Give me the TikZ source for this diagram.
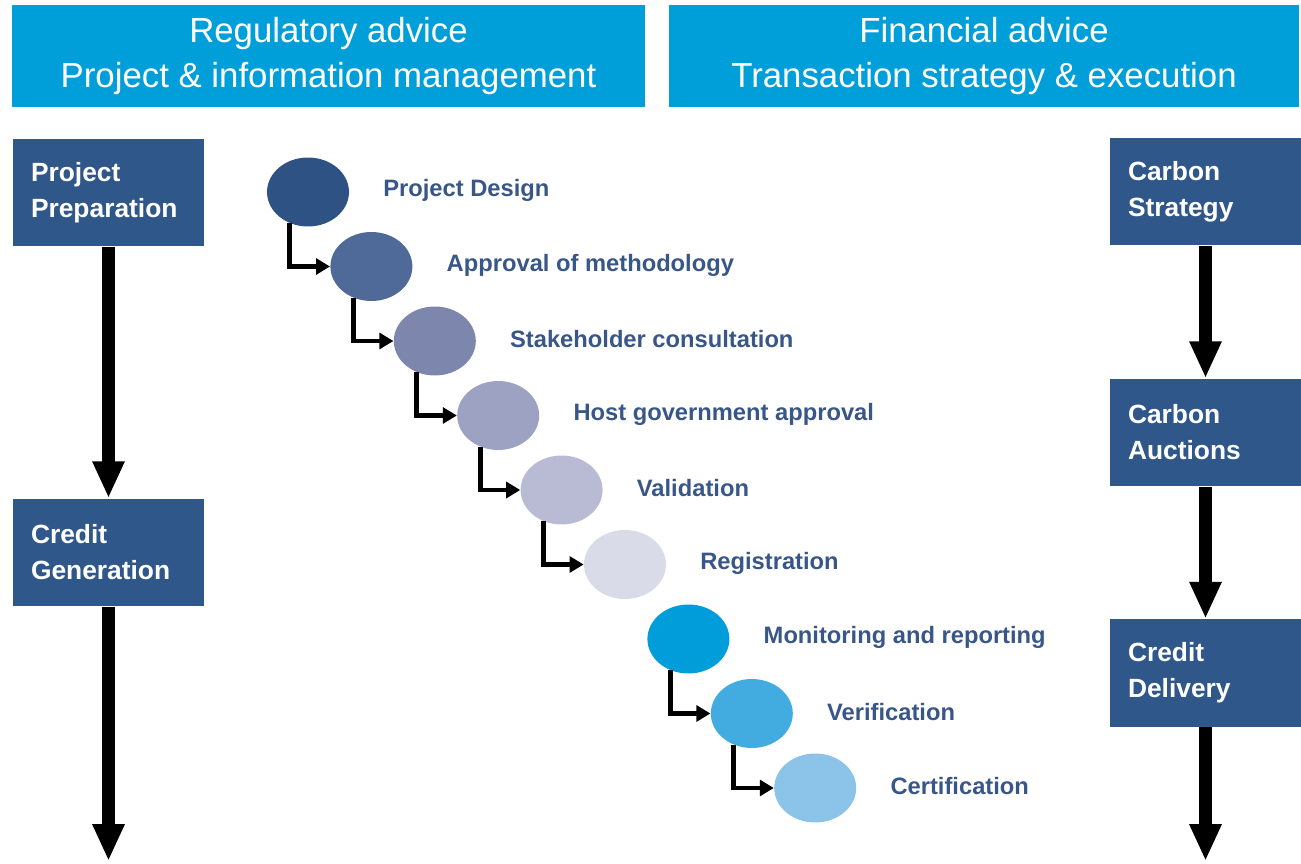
\documentclass[tikz,border=0pt]{standalone}
\usepackage{fontspec}
\setmainfont{Liberation Sans}
\usetikzlibrary{arrows.meta,shapes.geometric}
\definecolor{boxblue}{RGB}{48,87,138}
\definecolor{headblue}{RGB}{0,159,218}
\definecolor{labelblue}{RGB}{56,86,136}
\definecolor{st1}{RGB}{46,82,131}
\definecolor{st2}{RGB}{79,106,152}
\definecolor{st3}{RGB}{125,135,174}
\definecolor{st4}{RGB}{157,162,194}
\definecolor{st5}{RGB}{184,187,211}
\definecolor{st6}{RGB}{218,219,232}
\definecolor{st7}{RGB}{0,157,219}
\definecolor{st8}{RGB}{66,172,224}
\definecolor{st9}{RGB}{140,195,232}
\tikzset{
    headbox/.style={fill=headblue,text=white,minimum height=2.04cm,align=center,
        font=\fontsize{19.8}{25.5}\selectfont},
    phase/.style={fill=boxblue,text=white,minimum width=3.84cm,minimum height=2.16cm,
        inner xsep=0.36cm,text width=3.1cm,align=left,
        font=\bfseries\fontsize{15}{20.4}\selectfont},
    stage/.style={ellipse,inner sep=0pt,minimum width=1.64cm,minimum height=1.38cm},
    stagelabel/.style={anchor=west,inner sep=0pt,text=labelblue,
        font=\bfseries\fontsize{13.5}{16}\selectfont},
    flowarrow/.style={line width=2.8pt,-{Triangle[length=8pt,width=9pt]}},
    bigarrow/.style={line width=7.2pt,-{Triangle[length=21pt,width=17pt]}}
}
\begin{document}
\begin{tikzpicture}[x=0.02cm,y=-0.02cm]
            \useasboundingbox (0,0) rectangle (1301,864);

            \node[headbox,minimum width=12.66cm] (reg) at (328.5,56) {Regulatory advice\\Project \& information management};
            \node[headbox,minimum width=12.6cm] (fin) at (984,56) {Financial advice\\Transaction strategy \& execution};

            \node[phase] (prep) at (108.5,192.5) {Project\\Preparation};
            \node[phase] (gen) at (108.5,552.5) {Credit\\Generation};
            \node[phase,minimum width=3.82cm] (strat) at (1205.5,191.5) {Carbon\\Strategy};
            \node[phase,minimum width=3.82cm] (auct) at (1205.5,432.5) {Carbon\\Auctions};
            \node[phase,minimum width=3.82cm] (deliv) at (1205.5,673) {Credit\\Delivery};
            \coordinate (genend) at (108.5,861);
            \coordinate (delivend) at (1205.5,861);

            \draw[bigarrow] (prep) -- (gen);
            \draw[bigarrow] (gen) -- (genend);
            \draw[bigarrow] (strat) -- (auct);
            \draw[bigarrow] (auct) -- (deliv);
            \draw[bigarrow] (deliv) -- (delivend);

            \foreach \i/\c/\t in {1/st1/Project Design,2/st2/Approval of methodology,
                3/st3/Stakeholder consultation,4/st4/Host government approval,
                5/st5/Validation,6/st6/Registration,7/st7/Monitoring and reporting,
                8/st8/Verification,9/st9/Certification} {
                \node[stage,fill=\c] (e\i) at ({308+63.4*(\i-1)},{192+74.5*(\i-1)}) {};
                \node[stagelabel] (l\i) at ([xshift=1.5cm,yshift=0.03cm]e\i.center) {\t};
            }

            \foreach \i/\j in {1/2,2/3,3/4,4/5,5/6,7/8,8/9} {
                \draw[flowarrow] (e\i.240) |- (e\j.west);
            }
        \end{tikzpicture}
\end{document}
